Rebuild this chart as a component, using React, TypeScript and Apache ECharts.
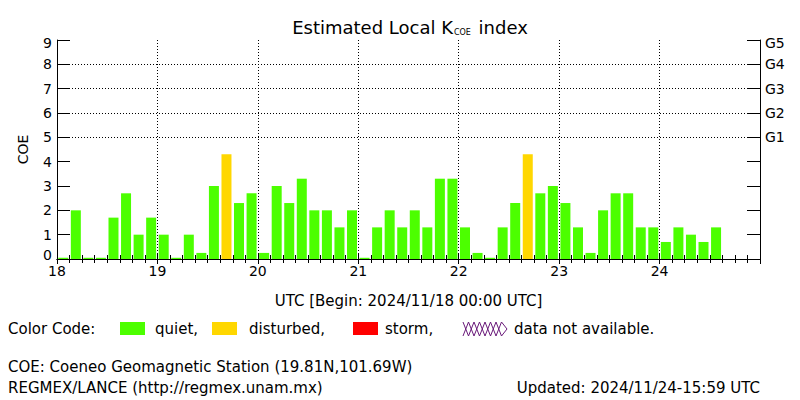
import React, { useEffect, useRef } from 'react';
import * as echarts from 'echarts';

// Days shown on the x axis (UTC, November 2024)
const days = [18, 19, 20, 21, 22, 23, 24];
// 3-hour slot start hours
const slotStartHours = [0, 3, 6, 9, 12, 15, 18, 21];
// Estimated local K index (COE) per 3-hour slot; null = no bar
const kDay18 = [0.05, 2.0, 0.05, 0.05, 1.7, 2.7, 1.0, 1.7];
const kDay19 = [1.0, 0.05, 1.0, 0.25, 3.0, 4.3, 2.3, 2.7];
const kDay20 = [0.25, 3.0, 2.3, 3.3, 2.0, 2.0, 1.3, 2.0];
const kDay21 = [0.05, 1.3, 2.0, 1.3, 2.0, 1.3, 3.3, 3.3];
const kDay22 = [1.3, 0.25, 0.05, 1.3, 2.3, 4.3, 2.7, 3.0];
const kDay23 = [2.3, 1.3, 0.25, 2.0, 2.7, 2.7, 1.3, 1.3];
const kDay24 = [0.7, 1.3, 1.0, 0.7, 1.3, null, null, null];
const kValues = [kDay18, kDay19, kDay20, kDay21, kDay22, kDay23, kDay24];
const stormLevels = [5, 6, 7, 8];
const gLabels = ['G1', 'G2', 'G3', 'G4', 'G5'];

const FONT = 'DejaVu Sans';
const QUIET = '#4cff00';
const DISTURBED = '#ffd700';
const STORM = '#ff0000';

export default function App() {
  const ref = useRef<HTMLDivElement>(null);
  useEffect(() => {
    const chart = echarts.init(ref.current!, null, { renderer: 'svg' });
    const barData: any[] = [];
    days.forEach((d, di) =>
      slotStartHours.forEach((h, hi) => {
        const v = kValues[di][hi];
        if (v !== null) barData.push([d + (h + 1.5) / 24, v]);
      })
    );
    const txt = (x: number, y: number, text: string, extra: any = {}) => ({
      type: 'text',
      x,
      y,
      style: {
        text,
        font: `15px "${FONT}"`,
        fill: '#000',
        textVerticalAlign: 'middle',
        ...extra,
      },
    });
    const labelRich = {
      lo: { fontFamily: FONT, fontSize: 14, color: '#000', padding: [0, 0, 8, 0] },
      hi: { fontFamily: FONT, fontSize: 14, color: '#000', padding: [5, 0, 0, 0] },
    };
    const xTickCommon = {
      type: 'value',
      min: 18,
      max: 25,
      interval: 1,
      axisLine: { show: true, lineStyle: { color: '#000', width: 1 } },
      axisTick: { show: true, inside: true, length: 5, lineStyle: { color: '#000' } },
      minorTick: { show: true, splitNumber: 8, length: 4, lineStyle: { color: '#000' } },
    };
    chart.setOption({
      animation: false,
      backgroundColor: '#fff',
      grid: { left: 57, right: 40, top: 40, bottom: 141, containLabel: false },
      xAxis: [
        {
          ...xTickCommon,
          position: 'bottom',
          name: 'UTC [Begin: 2024/11/18 00:00 UTC]',
          nameLocation: 'middle',
          nameGap: 34,
          nameTextStyle: { fontFamily: FONT, fontSize: 15, color: '#000' },
          axisLabel: {
            fontFamily: FONT,
            fontSize: 14,
            color: '#000',
            margin: 5,
            formatter: (v: number) => (v >= 25 ? '' : String(v)),
          },
          splitLine: { show: true, lineStyle: { color: '#000', type: [1, 2], width: 1 } },
        },
        {
          ...xTickCommon,
          position: 'top',
          axisLabel: { show: false },
          splitLine: { show: false },
        },
      ],
      yAxis: [
        {
          type: 'value',
          min: 0,
          max: 9,
          interval: 1,
          position: 'left',
          name: 'COE',
          nameLocation: 'middle',
          nameGap: 27,
          nameRotate: 90,
          nameTextStyle: { fontFamily: FONT, fontSize: 14, color: '#000' },
          axisLine: { show: true, lineStyle: { color: '#000', width: 1 } },
          axisTick: { show: true, inside: true, length: 13, lineStyle: { color: '#000' } },
          axisLabel: {
            fontFamily: FONT,
            fontSize: 14,
            color: '#000',
            margin: 5,
            formatter: (v: number) => (v === 0 ? '{lo|0}' : v === 9 ? '{hi|9}' : String(v)),
            rich: labelRich,
          },
          splitLine: { show: false },
        },
        {
          type: 'value',
          min: 0,
          max: 9,
          interval: 1,
          position: 'right',
          axisLine: { show: true, lineStyle: { color: '#000', width: 1 } },
          axisTick: { show: true, inside: true, length: 13, lineStyle: { color: '#000' } },
          axisLabel: {
            fontFamily: FONT,
            fontSize: 14,
            color: '#000',
            margin: 5,
            formatter: (v: number) =>
              v === 9 ? `{hi|${gLabels[4]}}` : v >= 5 ? gLabels[v - 5] : '',
            rich: labelRich,
          },
          splitLine: { show: false },
        },
      ],
      series: [
        {
          type: 'bar',
          xAxisIndex: 0,
          yAxisIndex: 0,
          barWidth: 10,
          data: barData,
          itemStyle: {
            color: (p: any) => {
              const v = p.value[1];
              return v >= 5 ? STORM : v >= 4 ? DISTURBED : QUIET;
            },
          },
          markLine: {
            silent: true,
            symbol: ['none', 'none'],
            label: { show: false },
            lineStyle: { color: '#000', type: [1, 2], width: 1 },
            data: stormLevels.map((v) => ({ yAxis: v })),
          },
        },
      ],
      graphic: [
        {
          type: 'text',
          x: 410,
          y: 27,
          style: {
            text: 'Estimated Local K{sub|COE} index',
            font: `18px "${FONT}"`,
            fill: '#000',
            textAlign: 'center',
            textVerticalAlign: 'middle',
            rich: {
              sub: { fontFamily: FONT, fontSize: 8, padding: [10, 2, 0, 1], fill: '#000' },
            },
          },
        },
        txt(8, 329, 'Color Code:'),
        { type: 'rect', shape: { x: 120, y: 322, width: 25, height: 13 }, style: { fill: QUIET } },
        txt(155, 329, 'quiet,'),
        { type: 'rect', shape: { x: 212, y: 322, width: 25, height: 13 }, style: { fill: DISTURBED } },
        txt(249, 329, 'disturbed,'),
        { type: 'rect', shape: { x: 353, y: 322, width: 25, height: 13 }, style: { fill: STORM } },
        txt(385, 329, 'storm,'),
        {
          type: 'polyline',
          shape: { points: [[463, 322], [468.5, 336], [474, 322], [479.5, 336], [485, 322], [490.5, 336], [496, 322], [501.5, 336], [507, 329]] },
          style: { stroke: '#6a1a7a', lineWidth: 1, fill: null },
        },
        {
          type: 'polyline',
          shape: { points: [[463, 336], [468.5, 322], [474, 336], [479.5, 322], [485, 336], [490.5, 322], [496, 336], [501.5, 322], [507, 329]] },
          style: { stroke: '#6a1a7a', lineWidth: 1, fill: null },
        },
        txt(514, 329, 'data not available.'),
        txt(8, 367, 'COE: Coeneo Geomagnetic Station (19.81N,101.69W)'),
        txt(8, 388, 'REGMEX/LANCE (http://regmex.unam.mx)'),
        txt(760, 388, 'Updated: 2024/11/24-15:59 UTC', { textAlign: 'right' }),
      ],
    });
    return () => chart.dispose();
  }, []);
  return (
    <div
      ref={ref}
      style={{ position: 'absolute', left: 0, top: 0, width: 800, height: 400, background: '#fff' }}
    />
  );
}
